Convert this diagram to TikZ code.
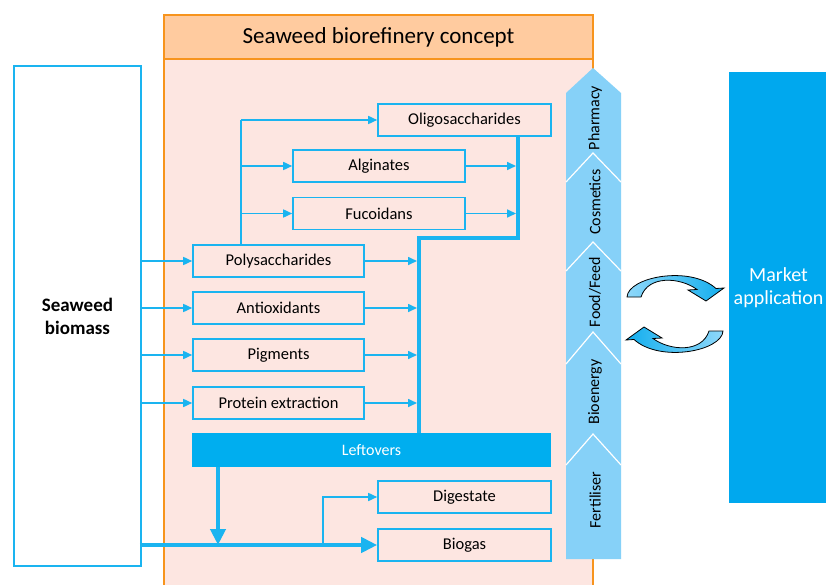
\documentclass[tikz,border=0pt]{standalone}
\usepackage{fontspec}
\setmainfont{Carlito}
\usetikzlibrary{arrows.meta}
\definecolor{cy}{HTML}{1AB4F0}
\definecolor{bar}{HTML}{00AEEF}
\definecolor{mkt}{HTML}{00A8EE}
\definecolor{chev}{HTML}{86D1F8}
\definecolor{pink}{HTML}{FDE6E1}
\definecolor{hdr}{HTML}{FFCB9F}
\definecolor{org}{HTML}{F7941D}
\definecolor{arlight}{HTML}{8FD8FA}
\definecolor{ardark}{HTML}{12AEEE}
\begin{document}
\begin{tikzpicture}[x=1pt,y=-1pt,
  box/.style={draw=cy, line width=1.6pt, minimum height=32pt, inner sep=0pt,
    font=\fontsize{16.5}{19}\selectfont},
  arr/.style={draw=cy, line width=1.6pt, -{Triangle[length=9pt,width=8pt]}},
  ln/.style={draw=cy, line width=1.6pt},
  thk/.style={draw=cy, line width=4pt},
  thkarr/.style={draw=cy, line width=4pt, -{Triangle[length=16pt,width=15pt]}},
  chevlab/.style={rotate=90, font=\fontsize{16}{19}\selectfont},
  sep/.style={draw=white, line width=1.2pt},
  cycarrow/.style={draw=black, line width=0.8pt}]
\useasboundingbox (0,0) rectangle (826,585);
\clip (0,0) rectangle (826,585);
\fill[white] (0,0) rectangle (826,585);

% frame
\filldraw[fill=pink, draw=org, line width=1.5pt] (164,59) rectangle (593,600);
\node[draw=org, fill=hdr, line width=1.5pt, minimum width=429pt, minimum height=44pt,
  inner sep=0pt, font=\fontsize{23}{26}\selectfont] (hdr) at (378.5,37) {Seaweed biorefinery concept};

% biomass
\node[draw=cy, fill=white, line width=1.6pt, minimum width=127pt, minimum height=500pt,
  align=center, font=\bfseries\fontsize{19}{23}\selectfont] (bio) at (77.5,316) {Seaweed\\biomass};

% boxes
\node[box, minimum width=171pt] (poly) at (278.5,261) {Polysaccharides};
\node[box, minimum width=171pt] (anti) at (278.5,308) {Antioxidants};
\node[box, minimum width=171pt] (pig) at (278.5,355) {Pigments};
\node[box, minimum width=171pt] (prot) at (278.5,403) {Protein extraction};
\node[box, minimum width=172pt] (alg) at (379,166) {Alginates};
\node[box, minimum width=172pt] (fuc) at (379,213.5) {Fucoidans};
\node[box, minimum width=173pt] (oligo) at (464.5,120) {Oligosaccharides};
\node[box, minimum width=173pt] (dig) at (464.5,497) {Digestate};
\node[box, minimum width=173pt] (biogas) at (464.5,545) {Biogas};
\node[fill=bar, text=white, minimum width=359pt, minimum height=34pt, inner sep=0pt,
  font=\fontsize{16}{19}\selectfont] (left) at (371.5,450) {Leftovers};

% biomass arrows
\foreach \b in {poly,anti,pig,prot}
  \draw[arr] (bio.east |- \b.west) -- (\b.west);

% polysaccharide branches
\coordinate (br) at (241,120);
\draw[ln] (poly.north -| br) -- (br);
\draw[arr] (br) -- (oligo.west);
\draw[arr] (alg.west -| br) -- (alg.west);
\draw[arr] (fuc.west -| br) -- (fuc.west);

% collector
\coordinate (c1) at (518,238);
\coordinate (c2) at (419,238);
\draw[thk] (oligo.south -| c1) -- (c1) -- (c2) -- (c2 |- left.north);
\draw[arr] (alg.east) -- ([xshift=-2pt]alg.east -| c1);
\draw[arr] (fuc.east) -- ([xshift=-2pt]fuc.east -| c1);
\foreach \b in {poly,anti,pig,prot}
  \draw[arr] (\b.east) -- ([xshift=-2pt]\b.east -| c2);

% leftovers to biogas
\coordinate (m) at (218,545);
\coordinate (d) at (323,545);
\draw[thkarr] (left.south -| m) -- (m);
\draw[thkarr] ([xshift=-2pt]bio.east |- biogas.west) -- (biogas.west);
\draw[arr] (d) -- (d |- dig.west) -- (dig.west);

% chevron column
\fill[chev] (566,93) -- (593,68) -- (621,93) -- (621,559) -- (566,559) -- cycle;
\draw[sep] (566,182) -- (593,153) -- (621,182);
\draw[sep] (566,271) -- (593,242) -- (621,271);
\draw[sep] (566,364) -- (593,332) -- (621,364);
\draw[sep] (566,465) -- (593,434) -- (621,465);
\node[chevlab] (ph) at (595,118) {Pharmacy};
\node[chevlab] (co) at (595,202) {Cosmetics};
\node[chevlab] (ff) at (595,292) {Food/Feed};
\node[chevlab] (be) at (595,392) {Bioenergy};
\node[chevlab] (fe) at (595,500) {Fertiliser};

% market
\node[fill=mkt, text=white, minimum width=99pt, minimum height=431pt, inner sep=0pt,
  align=center, font=\fontsize{20}{23}\selectfont] (mk) at (778.5,287.5) {Market\\application};

% cycle arrows
\path[cycarrow, left color=arlight, right color=ardark]
  (627,297) .. controls (628,277) and (690,265) .. (716,288.5) -- (724,288) -- (706,301)
  -- (688,290) -- (697,289.5) .. controls (680,277) and (648,275) .. (641,297) -- cycle;
\path[cycarrow, left color=ardark, right color=arlight]
  (723,331) .. controls (722,351) and (660,363) .. (634,339.5) -- (626,340) -- (644,327)
  -- (662,338) -- (653,338.5) .. controls (670,351) and (702,353) .. (709,331) -- cycle;
\end{tikzpicture}
\end{document}
